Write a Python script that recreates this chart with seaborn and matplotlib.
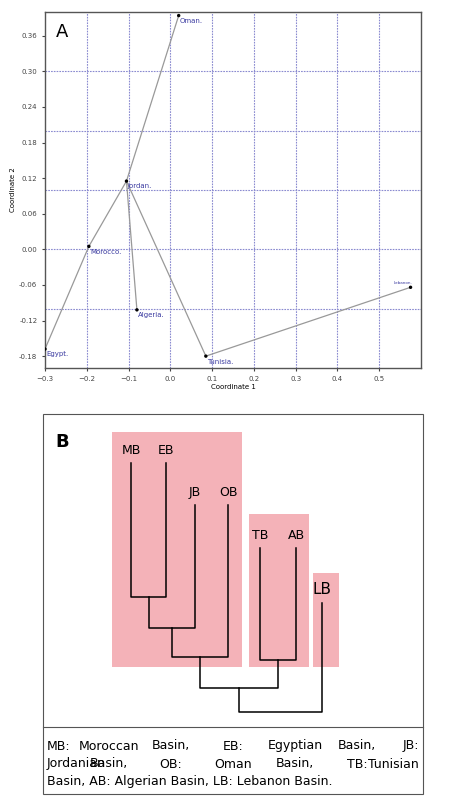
import matplotlib
matplotlib.use("Agg")
import matplotlib.pyplot as plt
import seaborn as sns
import pandas as pd
from matplotlib.patches import Rectangle

# panel A: PCoA coordinates
countries = ["Oman", "Jordan", "Morocco", "Algeria", "Egypt", "Tunisia", "Lebanon"]
coord1 = [0.02, -0.105, -0.195, -0.08, -0.30, 0.085, 0.575]
coord2 = [0.394, 0.115, 0.005, -0.102, -0.168, -0.18, -0.064]
tree_edges = [("Oman", "Jordan"), ("Jordan", "Morocco"), ("Morocco", "Egypt"),
              ("Jordan", "Algeria"), ("Jordan", "Tunisia"), ("Tunisia", "Lebanon")]

# panel B: dendrogram (leaf positions and merge levels in figure pixels)
leaves = ["MB", "EB", "JB", "OB", "TB", "AB", "LB"]
leaf_x = [131, 166, 195, 228, 260, 296, 322]
leaf_top = [463, 463, 505, 505, 548, 548, 603]
merges = [("MB", "EB", 597), ("MB+EB", "JB", 628), ("MB+EB+JB", "OB", 657),
          ("TB", "AB", 660), ("MB+EB+JB+OB", "TB+AB", 688),
          ("MB+EB+JB+OB+TB+AB", "LB", 712)]
legend_lines = [["MB:", "Moroccan", "Basin,", "EB:", "Egyptian", "Basin,", "JB:"],
                ["Jordanian", "Basin,", "OB:", "Oman", "Basin,", "TB:", "Tunisian"],
                ["Basin, AB: Algerian Basin, LB: Lebanon Basin."]]

W, H = 450, 797
fig = plt.figure(figsize=(W / 100, H / 100), dpi=100)

def px_axes(l, t, r, b):
    return fig.add_axes([l / W, 1 - b / H, (r - l) / W, (b - t) / H])

# ---- panel A
ax = px_axes(45, 12, 421, 368)
df = pd.DataFrame({"c1": coord1, "c2": coord2, "name": countries})
pos = dict(zip(countries, zip(coord1, coord2)))
for a, b in tree_edges:
    ax.plot([pos[a][0], pos[b][0]], [pos[a][1], pos[b][1]], color="#999999", lw=0.9, zorder=2)
sns.scatterplot(data=df, x="c1", y="c2", ax=ax, color="black", s=6, edgecolor="none", zorder=3)
for n, x, y in zip(countries, coord1, coord2):
    if n == "Lebanon":
        ax.text(x - 0.04, y + 0.006, n + ".", fontsize=3, color="#3a3aa0")
    else:
        ax.text(x + 0.003, y - 0.004, n + ".", fontsize=5, color="#3a3aa0", va="top")
ax.set_xlim(-0.3, 0.6)
ax.set_ylim(-0.2, 0.4)
ax.set_xticks([-0.3, -0.2, -0.1, 0.0, 0.1, 0.2, 0.3, 0.4, 0.5])
ax.set_yticks([-0.18, -0.12, -0.06, 0.0, 0.06, 0.12, 0.18, 0.24, 0.30, 0.36])
ax.set_yticklabels(["%.2f" % v for v in ax.get_yticks()])
ax.tick_params(labelsize=5, length=2, colors="#444444")
for v in [-0.2, -0.1, 0.0, 0.1, 0.2, 0.3, 0.4, 0.5]:
    ax.axvline(v, color="#8a8ad0", ls=(0, (1.5, 1)), lw=0.8, zorder=1)
for v in [-0.1, 0.0, 0.1, 0.2, 0.3]:
    ax.axhline(v, color="#8a8ad0", ls=(0, (1.5, 1)), lw=0.8, zorder=1)
ax.set_xlabel("Coordinate 1", fontsize=5, labelpad=2)
ax.set_ylabel("Coordinate 2", fontsize=5, labelpad=2)
for s in ax.spines.values():
    s.set_color("#555555")
    s.set_linewidth(1.0)
ax.text(0.03, 0.97, "A", transform=ax.transAxes, fontsize=13, va="top")

# ---- panel B
bx = fig.add_axes([0, 0, 1, 1])
bx.set_xlim(0, W)
bx.set_ylim(H, 0)
bx.axis("off")
bx.add_patch(Rectangle((43, 414), 380, 380, fill=False, ec="#555555", lw=0.8))
bx.plot([43, 423], [727, 727], color="#555555", lw=0.8)
for x0, x1, y0 in [(112, 242, 432), (249, 309, 514), (313, 339, 573)]:
    bx.add_patch(Rectangle((x0, y0), x1 - x0, 667 - y0, color="#f4b2b8", lw=0))
bx.text(55, 442, "B", fontsize=13, fontweight="bold", va="center")

node_x = dict(zip(leaves, leaf_x))
node_y = dict(zip(leaves, leaf_top))
for n, x, y in zip(leaves, leaf_x, leaf_top):
    bx.text(x, y - 6, n, fontsize=11 if n == "LB" else 9, ha="center", va="bottom")
for a, b, h in merges:
    xa, xb = node_x[a], node_x[b]
    bx.plot([xa, xa, xb, xb], [node_y[a], h, h, node_y[b]], color="black", lw=1.1)
    key = a + "+" + b
    node_x[key] = (xa + xb) / 2
    node_y[key] = h

# justified caption
x_left, x_right = 47, 419
for i, words in enumerate(legend_lines):
    y = 746 + i * 18
    if len(words) == 1:
        bx.text(x_left, y, words[0], fontsize=9, va="center")
        continue
    n = len(words)
    for j, w in enumerate(words):
        frac = j / (n - 1)
        xx = x_left + frac * (x_right - x_left)
        ha = "left" if j == 0 else ("right" if j == n - 1 else "center")
        bx.text(xx, y, w, fontsize=9, va="center", ha=ha)

fig.savefig("out.png", dpi=100)
